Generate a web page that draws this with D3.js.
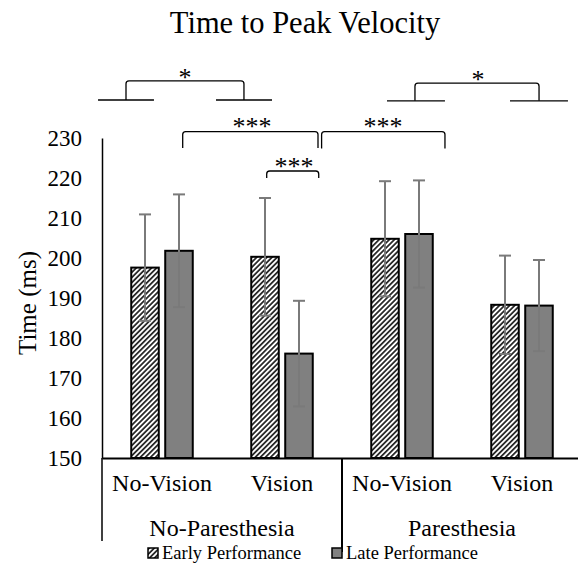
<!DOCTYPE html>
<html>
<head>
<meta charset="utf-8">
<script src="https://cdn.jsdelivr.net/npm/d3@7"></script>
<style>
  body { margin: 0; background: #fff; }
</style>
</head>
<body>
<div id="chart"></div>
<script>
  // chart data
  var categories = ["No-Vision", "Vision", "No-Vision", "Vision"];
  var groups = ["No-Paresthesia", "Paresthesia"];
  var seriesNames = ["Early Performance", "Late Performance"];
  var earlyValues = [197.6, 200.3, 204.8, 188.3];
  var lateValues = [201.8, 176.1, 206.0, 188.1];
  var earlyErrors = [13.3, 14.7, 14.4, 12.3];
  var lateErrors = [14.1, 13.2, 13.4, 11.4];
  var yTicks = [150, 160, 170, 180, 190, 200, 210, 220, 230];

  // significance brackets: x in category units (0..4), y in ms
  var brackets = [
    { x1: -0.033, x2: 0.433, v1: 0.2, v2: 1.183, x3: 0.95, x4: 1.417, foot: 239.5, top: 244.3, label: "*", lx: 0.692, ly: 246.3 },
    { x1: 2.375, x2: 2.858, v1: 2.608, v2: 3.642, x3: 3.4, x4: 3.883, foot: 239.3, top: 243.7, label: "*", lx: 3.133, ly: 245.8 },
    { v1: 0.6725, v2: 1.8, foot: 227.5, top: 231.6, label: "***", lx: 1.25, ly: 234.1 },
    { v1: 1.83, v2: 2.858, foot: 227.4, top: 231.6, label: "***", lx: 2.342, ly: 234.1 },
    { v1: 1.3725, v2: 1.806, foot: 220, top: 221.75, label: "***", lx: 1.6, ly: 224.1 }
  ];

  var FONT = "'Liberation Serif', 'Times New Roman', serif";

  var margin = { top: 138, right: -4, bottom: 107, left: 102 };
  var W = 578, H = 565;
  var width = W - margin.left - margin.right;
  var height = H - margin.top - margin.bottom;

  var svg = d3.select("#chart")
    .append("svg")
    .attr("width", W)
    .attr("height", H)
    .attr("font-family", FONT)
    .style("font-family", FONT);

  // hatch pattern for early bars
  var defs = svg.append("defs");
  defs.append("pattern")
    .attr("id", "hatch")
    .attr("patternUnits", "userSpaceOnUse")
    .attr("width", 3.6)
    .attr("height", 3.6)
    .attr("patternTransform", "rotate(45)")
    .call(function (p) {
      p.append("rect").attr("width", 3.6).attr("height", 3.6).attr("fill", "#fff");
      p.append("line").attr("x1", 0.9).attr("y1", 0).attr("x2", 0.9).attr("y2", 3.6)
        .attr("stroke", "#000").attr("stroke-width", 1.5);
    });

  var g = svg.append("g")
    .attr("transform", "translate(" + margin.left + "," + margin.top + ")");

  // scales
  var x0 = d3.scaleBand()
    .domain(d3.range(categories.length))
    .range([0, width])
    .padding(0);

  var x1 = d3.scaleBand()
    .domain([0, 1])
    .range([0, x0.bandwidth()])
    .paddingInner(0.19)
    .paddingOuter(0.86);

  var y = d3.scaleLinear()
    .domain([150, 230])
    .range([height, 0]);

  var u = d3.scaleLinear().domain([0, categories.length]).range([0, width]);

  // title
  svg.append("text")
    .attr("x", 305)
    .attr("y", 33)
    .attr("text-anchor", "middle")
    .style("font-family", FONT)
    .style("font-size", "30.5px")
    .text("Time to Peak Velocity");

  // Y axis
  var yAxis = g.append("g")
    .call(d3.axisLeft(y).tickValues(yTicks).tickSize(0).tickSizeOuter(0).tickPadding(20))
    .attr("font-family", FONT);
  yAxis.select(".domain").attr("stroke", "#000").attr("stroke-width", 1.5);
  yAxis.selectAll("text")
    .style("font-family", FONT)
    .style("font-size", "23px")
    .attr("fill", "#000");

  svg.append("text")
    .attr("transform", "translate(36," + (margin.top + y(190) + 5) + ") rotate(-90)")
    .attr("text-anchor", "middle")
    .style("font-family", FONT)
    .style("font-size", "25px")
    .text("Time (ms)");

  // bars
  var rows = categories.map(function (c, i) {
    return [
      { cat: i, s: 0, value: earlyValues[i], err: earlyErrors[i] },
      { cat: i, s: 1, value: lateValues[i], err: lateErrors[i] }
    ];
  });

  var cat = g.selectAll(".cat")
    .data(rows)
    .enter()
    .append("g")
    .attr("class", "cat")
    .attr("transform", function (d, i) { return "translate(" + x0(i) + ",0)"; });

  cat.selectAll("rect")
    .data(function (d) { return d; })
    .enter()
    .append("rect")
    .attr("x", function (d) { return x1(d.s); })
    .attr("width", x1.bandwidth())
    .attr("y", function (d) { return y(d.value); })
    .attr("height", function (d) { return y(150) - y(d.value); })
    .attr("fill", function (d) { return d.s === 0 ? "url(#hatch)" : "#808080"; })
    .attr("stroke", "#000")
    .attr("stroke-width", 2);

  // error bars
  var eb = cat.selectAll(".err")
    .data(function (d) { return d; })
    .enter()
    .append("g")
    .attr("class", "err")
    .attr("stroke", "#7a7a7a")
    .attr("stroke-width", 2);
  var cx = function (d) { return x1(d.s) + x1.bandwidth() / 2; };
  eb.append("line")
    .attr("x1", cx).attr("x2", cx)
    .attr("y1", function (d) { return y(d.value + d.err); })
    .attr("y2", function (d) { return y(d.value - d.err); });
  eb.append("line")
    .attr("x1", function (d) { return cx(d) - 6; }).attr("x2", function (d) { return cx(d) + 6; })
    .attr("y1", function (d) { return y(d.value + d.err); })
    .attr("y2", function (d) { return y(d.value + d.err); });
  eb.append("line")
    .attr("x1", function (d) { return cx(d) - 6; }).attr("x2", function (d) { return cx(d) + 6; })
    .attr("y1", function (d) { return y(d.value - d.err); })
    .attr("y2", function (d) { return y(d.value - d.err); });

  // X axis with two level labels
  var xAxis = g.append("g")
    .attr("transform", "translate(0," + height + ")")
    .call(d3.axisBottom(x0).tickSize(0).tickSizeOuter(0).tickPadding(16)
      .tickFormat(function (i) { return categories[i]; }))
    .attr("font-family", FONT);
  xAxis.select(".domain").attr("stroke", "#000").attr("stroke-width", 2);
  xAxis.selectAll("text")
    .style("font-family", FONT)
    .style("font-size", "24px")
    .attr("fill", "#000");

  g.append("line")
    .attr("x1", 0).attr("x2", 0)
    .attr("y1", height).attr("y2", height + 83)
    .attr("stroke", "#000").attr("stroke-width", 1.5);
  g.append("line")
    .attr("x1", x0(2)).attr("x2", x0(2))
    .attr("y1", height).attr("y2", height + 94)
    .attr("stroke", "#000").attr("stroke-width", 2);

  g.selectAll(".group-label")
    .data(groups)
    .enter()
    .append("text")
    .attr("class", "group-label")
    .attr("x", function (d, i) { return x0(i * 2) + x0.bandwidth(); })
    .attr("y", height + 78)
    .attr("text-anchor", "middle")
    .style("font-family", FONT)
    .style("font-size", "24px")
    .text(function (d) { return d; });

  // significance brackets
  var ann = g.append("g")
    .attr("fill", "none")
    .attr("stroke", "#000")
    .attr("stroke-width", 1.3);
  brackets.forEach(function (b) {
    ann.append("path")
      .attr("d", "M" + u(b.v1) + "," + y(b.foot) + "V" + (y(b.top) + 3) +
        "Q" + u(b.v1) + "," + y(b.top) + " " + (u(b.v1) + 3) + "," + y(b.top) +
        "H" + (u(b.v2) - 3) +
        "Q" + u(b.v2) + "," + y(b.top) + " " + u(b.v2) + "," + (y(b.top) + 3) +
        "V" + y(b.foot));
    if (b.x1 !== undefined) {
      ann.append("line").attr("x1", u(b.x1)).attr("x2", u(b.x2)).attr("y1", y(b.foot)).attr("y2", y(b.foot));
      ann.append("line").attr("x1", u(b.x3)).attr("x2", u(b.x4)).attr("y1", y(b.foot)).attr("y2", y(b.foot));
    }
    g.append("text")
      .attr("x", u(b.lx))
      .attr("y", y(b.ly) + 13)
      .attr("text-anchor", "middle")
      .style("font-family", FONT)
      .style("font-size", "26px")
      .text(b.label);
  });

  // legend
  var legend = svg.append("g").attr("transform", "translate(148,548)");
  var items = legend.selectAll("g")
    .data(seriesNames)
    .enter()
    .append("g")
    .attr("transform", function (d, i) { return "translate(" + (i * 184) + ",0)"; });
  items.append("rect")
    .attr("width", 10).attr("height", 10)
    .attr("fill", function (d, i) { return i === 0 ? "url(#hatch)" : "#808080"; })
    .attr("stroke", "#000")
    .attr("stroke-width", 1.5);
  items.append("text")
    .attr("x", 14)
    .attr("y", 11)
    .style("font-family", FONT)
    .style("font-size", "18.5px")
    .text(function (d) { return d; });
</script>
</body>
</html>
